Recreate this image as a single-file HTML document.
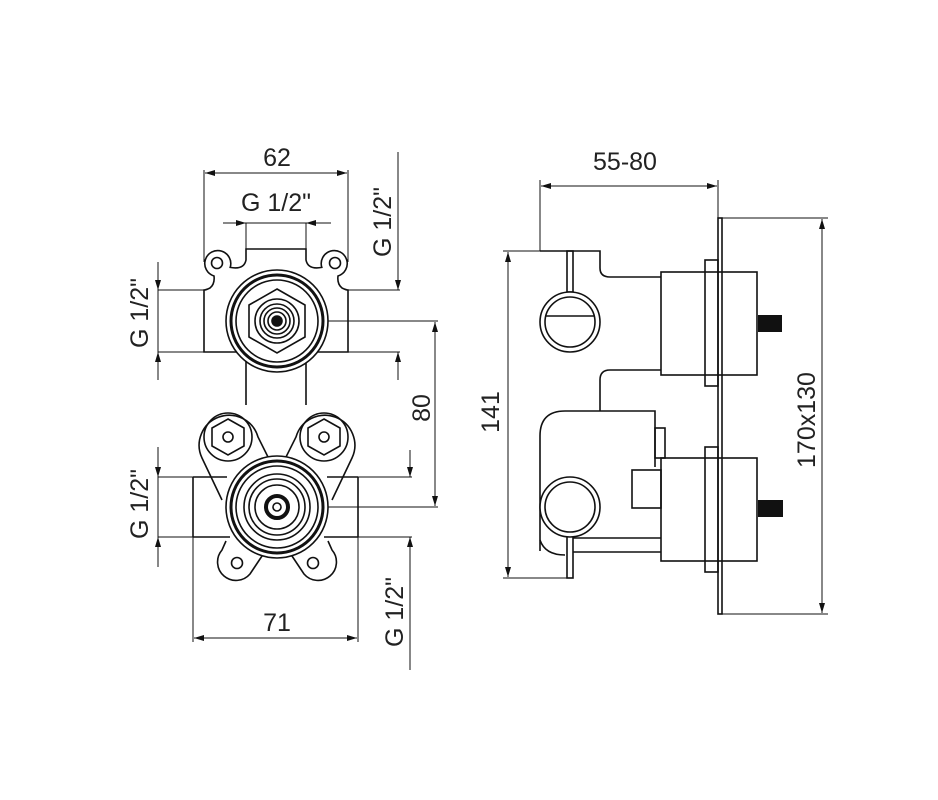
<!DOCTYPE html>
<html><head><meta charset="utf-8"><style>
html,body{margin:0;padding:0;background:#fff;}
svg{display:block;}
text{font-family:"Liberation Sans",sans-serif;font-size:25px;fill:#222;}
</style></head><body>
<svg width="938" height="800" viewBox="0 0 938 800" xmlns="http://www.w3.org/2000/svg">
<defs>
<marker id="a" viewBox="0 0 10 6" refX="10" refY="3" markerWidth="10" markerHeight="6" markerUnits="userSpaceOnUse" orient="auto-start-reverse"><path d="M0,0L10,3L0,6z" fill="#111"/></marker>
</defs>
<rect width="938" height="800" fill="#fff"/>
<g stroke="#111" fill="none" stroke-width="1">
<line x1="204" y1="170" x2="204" y2="262"/><line x1="348" y1="170" x2="348" y2="262"/>
<line x1="205" y1="173" x2="347" y2="173" marker-start="url(#a)" marker-end="url(#a)"/>
<line x1="223" y1="223" x2="246" y2="223" marker-end="url(#a)"/>
<line x1="331" y1="223" x2="306" y2="223" marker-end="url(#a)"/>
<line x1="246" y1="223" x2="306" y2="223"/>
<line x1="246" y1="223" x2="246" y2="249"/><line x1="306" y1="223" x2="306" y2="249"/>
<line x1="158" y1="290" x2="204" y2="290"/><line x1="158" y1="352" x2="204" y2="352"/>
<line x1="158" y1="262" x2="158" y2="290" marker-end="url(#a)"/>
<line x1="158" y1="380" x2="158" y2="352" marker-end="url(#a)"/>
<line x1="158" y1="290" x2="158" y2="352"/>
<line x1="348" y1="290" x2="400" y2="290"/><line x1="348" y1="352" x2="400" y2="352"/>
<line x1="398" y1="152" x2="398" y2="290" marker-end="url(#a)"/>
<line x1="398" y1="380" x2="398" y2="352" marker-end="url(#a)"/>
<line x1="327" y1="321" x2="438" y2="321"/><line x1="327" y1="507" x2="438" y2="507"/>
<line x1="435" y1="506" x2="435" y2="322" marker-start="url(#a)" marker-end="url(#a)"/>
<line x1="158" y1="477" x2="193" y2="477"/><line x1="158" y1="537" x2="193" y2="537"/>
<line x1="158" y1="447" x2="158" y2="477" marker-end="url(#a)"/>
<line x1="158" y1="567" x2="158" y2="537" marker-end="url(#a)"/>
<line x1="158" y1="477" x2="158" y2="537"/>
<line x1="358" y1="477" x2="412" y2="477"/><line x1="358" y1="537" x2="412" y2="537"/>
<line x1="410" y1="450" x2="410" y2="477" marker-end="url(#a)"/>
<line x1="410" y1="670" x2="410" y2="537" marker-end="url(#a)"/>
<line x1="193" y1="537" x2="193" y2="642"/><line x1="358" y1="537" x2="358" y2="642"/>
<line x1="194" y1="638" x2="357" y2="638" marker-start="url(#a)" marker-end="url(#a)"/>
</g>
<g stroke="#111" fill="none" stroke-width="1.6">
<path d="M246,249 H306 V260 Q308,270 321.8,267.4 A13,13 0 1 1 338,276 Q337,284 342,288 Q346,290 348,290 V352 H204 V290 Q206,290 210,288 Q215,284 214,276 A13,13 0 1 1 230.2,267.4 Q244,270 246,260 Z"/>
<circle cx="217" cy="263" r="5.5"/><circle cx="335" cy="263" r="5.5"/>
<line x1="246" y1="352" x2="246" y2="405"/><line x1="306" y1="352" x2="306" y2="405"/>
<circle cx="277" cy="321" r="51" fill="#fff"/>
<circle cx="277" cy="321" r="46" stroke-width="3"/>
<circle cx="277" cy="321" r="41"/>
<polygon points="277,289 305,305 305,337 277,353 249,337 249,305"/>
<circle cx="277" cy="321" r="22"/>
<circle cx="277" cy="321" r="17"/><circle cx="277" cy="321" r="13"/><circle cx="277" cy="321" r="9"/>
<circle cx="277" cy="321" r="5" fill="#111"/>
<path d="M193,477 H227 M193,537 H230 M193,477 V537 M358,477 H327 M358,537 H324 M358,477 V537"/>
<path d="M222,500 L202,458 A30,30 0 1 1 258,437 L268,457 M332,500 L352,458 A30,30 0 1 0 296,437 L286,457"/>
<circle cx="228" cy="437" r="24"/><circle cx="324" cy="437" r="24"/>
<polygon points="228,419 244,428 244,446 228,455 212,446 212,428"/>
<polygon points="324,419 340,428 340,446 324,455 308,446 308,428"/>
<circle cx="228" cy="437" r="5"/><circle cx="324" cy="437" r="5"/>
<path d="M226,541 L222,550 A15,15 0 0 0 250,574 L262,556 M328,541 L332,550 A15,15 0 0 1 304,574 L292,556"/>
<circle cx="237" cy="563" r="5.5"/><circle cx="313" cy="563" r="5.5"/>
<circle cx="277" cy="507" r="51" fill="#fff"/>
<circle cx="277" cy="507" r="46" stroke-width="3"/>
<circle cx="277" cy="507" r="41"/>
<circle cx="277" cy="507" r="33"/><circle cx="277" cy="507" r="28"/><circle cx="277" cy="507" r="22"/>
<circle cx="277" cy="507" r="11" stroke-width="4"/>
<circle cx="277" cy="507" r="4"/>
</g>
<g stroke="#111" fill="none" stroke-width="1">
<line x1="540" y1="180" x2="540" y2="251"/><line x1="718" y1="180" x2="718" y2="218"/>
<line x1="541" y1="186" x2="717" y2="186" marker-start="url(#a)" marker-end="url(#a)"/>
<line x1="503" y1="251" x2="540" y2="251"/><line x1="503" y1="578" x2="573" y2="578"/>
<line x1="508" y1="252" x2="508" y2="577" marker-start="url(#a)" marker-end="url(#a)"/>
<line x1="722" y1="218" x2="828" y2="218"/><line x1="722" y1="614" x2="828" y2="614"/>
<line x1="822" y1="219" x2="822" y2="613" marker-start="url(#a)" marker-end="url(#a)"/>
</g>
<g stroke="#111" fill="none" stroke-width="1.6">
<rect x="718" y="218" width="4" height="396"/>
<path d="M540,251 H600 V268 Q600,277 610,277 H661 M661,370 H610 Q600,370 600,380 V411"/>
<path d="M540,551 V436 Q540,411 565,411 H655 V467"/>
<path d="M540,540 Q545,555 565,555 M573,538 H661 M573,552 H661"/>
<rect x="567" y="251" width="6" height="41"/>
<rect x="567" y="535" width="6" height="43"/>
<rect x="661" y="272" width="96" height="103"/>
<rect x="705" y="260" width="13" height="126"/>
<rect x="661" y="458" width="96" height="103"/>
<rect x="705" y="447" width="13" height="125"/>
<rect x="655" y="428" width="10" height="30"/>
<rect x="632" y="470" width="29" height="38"/>
<circle cx="570" cy="322" r="30" fill="#fff"/><circle cx="570" cy="322" r="25"/>
<line x1="545" y1="316" x2="595" y2="316"/>
<circle cx="570" cy="507" r="30" fill="#fff"/><circle cx="570" cy="507" r="25"/>
</g>
<rect x="758" y="315" width="24" height="17" fill="#111"/>
<rect x="758" y="500" width="25" height="17" fill="#111"/>
<text x="277" y="166" text-anchor="middle">62</text>
<text x="276" y="211" text-anchor="middle">G 1/2"</text>
<text x="277" y="631" text-anchor="middle">71</text>
<text x="625" y="170" text-anchor="middle">55-80</text>
<text transform="translate(148,313) rotate(-90)" text-anchor="middle">G 1/2"</text>
<text transform="translate(148,504) rotate(-90)" text-anchor="middle">G 1/2"</text>
<text transform="translate(391,222) rotate(-90)" text-anchor="middle">G 1/2"</text>
<text transform="translate(403,612) rotate(-90)" text-anchor="middle">G 1/2"</text>
<text transform="translate(430,408) rotate(-90)" text-anchor="middle">80</text>
<text transform="translate(499,412) rotate(-90)" text-anchor="middle">141</text>
<text transform="translate(815,420) rotate(-90)" text-anchor="middle">170x130</text>
</svg>
</body></html>
